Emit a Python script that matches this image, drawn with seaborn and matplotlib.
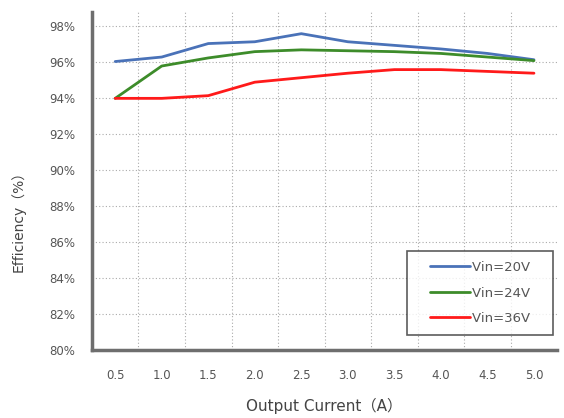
import pandas as pd
import numpy as np
import seaborn as sns
import matplotlib.pyplot as plt
from matplotlib.legend_handler import HandlerLine2D

currents = ["0.5", "1.0", "1.5", "2.0", "2.5", "3.0", "3.5", "4.0", "4.5", "5.0"]
vin20 = [96.05, 96.3, 97.05, 97.15, 97.6, 97.15, 96.95, 96.75, 96.5, 96.15]
vin24 = [94.0, 95.8, 96.25, 96.6, 96.7, 96.65, 96.6, 96.5, 96.3, 96.1]
vin36 = [94.0, 94.0, 94.15, 94.9, 95.15, 95.4, 95.6, 95.6, 95.5, 95.4]
labels = ["Vin=20V", "Vin=24V", "Vin=36V"]
yticks = [80, 82, 84, 86, 88, 90, 92, 94, 96, 98]

rows = []
for name, vals in zip(labels, [vin20, vin24, vin36]):
    for i, v in enumerate(vals):
        rows.append({"pos": i, "cur": currents[i], "eff": v, "series": name})
df = pd.DataFrame(rows)

sns.set_style("white")
plt.rcParams['font.family'] = ['DejaVu Sans', 'Noto Sans CJK JP']

fig = plt.figure(figsize=(5.64, 4.18), dpi=100)
ax = fig.add_axes([0.163, 0.163, 0.825, 0.808])

colors = {"Vin=20V": "#4a72b8", "Vin=24V": "#3d8c2a", "Vin=36V": "#ff1a1a"}
sns.lineplot(data=df, x="pos", y="eff", hue="series", palette=colors, linewidth=2.0, ax=ax)

ax.set_xlim(-0.5, 9.5)
ax.set_ylim(80, 98.8)
ax.set_xticks(range(len(currents)))
ax.set_xticklabels(currents)
ax.set_xticks(np.arange(0.5, 9, 1), minor=True)
ax.set_yticks(yticks)
ax.set_yticklabels([f"{t}%" for t in yticks])
ax.grid(False)
ax.grid(True, axis="y", which="major", color="#aaaaaa", linestyle=(0, (1, 2)), linewidth=0.8)
ax.grid(True, axis="x", which="minor", color="#aaaaaa", linestyle=(0, (1, 2)), linewidth=0.8)
ax.tick_params(axis="both", which="both", length=0, labelsize=8.5, labelcolor="#555555")
ax.tick_params(axis="y", pad=12)
ax.tick_params(axis="x", pad=14)

for s in ["top", "right"]:
    ax.spines[s].set_visible(False)
for s in ["left", "bottom"]:
    ax.spines[s].set_color("#6e6e6e")
    ax.spines[s].set_linewidth(2.5)

ax.set_xlabel("Output Current（A）", fontsize=11, color="#444444", labelpad=11)
ax.set_ylabel("Efficiency（%）", fontsize=10, color="#444444")
ax.yaxis.set_label_coords(-0.142, 0.39)

handles, _ = ax.get_legend_handles_labels()
leg = ax.legend(handles, [l + "   " for l in labels], loc="lower right",
                bbox_to_anchor=(0.991, 0.044), fontsize=9.5, frameon=True,
                fancybox=False, handlelength=4.0, handletextpad=0.2, labelspacing=0.95,
                borderpad=0.75, borderaxespad=0,
                handler_map={h: HandlerLine2D(xpad=1.0) for h in handles})
leg.get_frame().set_edgecolor("#333333")
leg.get_frame().set_linewidth(1.2)
for t in leg.get_texts():
    t.set_color("#555555")

fig.savefig("out.png", dpi=100)
